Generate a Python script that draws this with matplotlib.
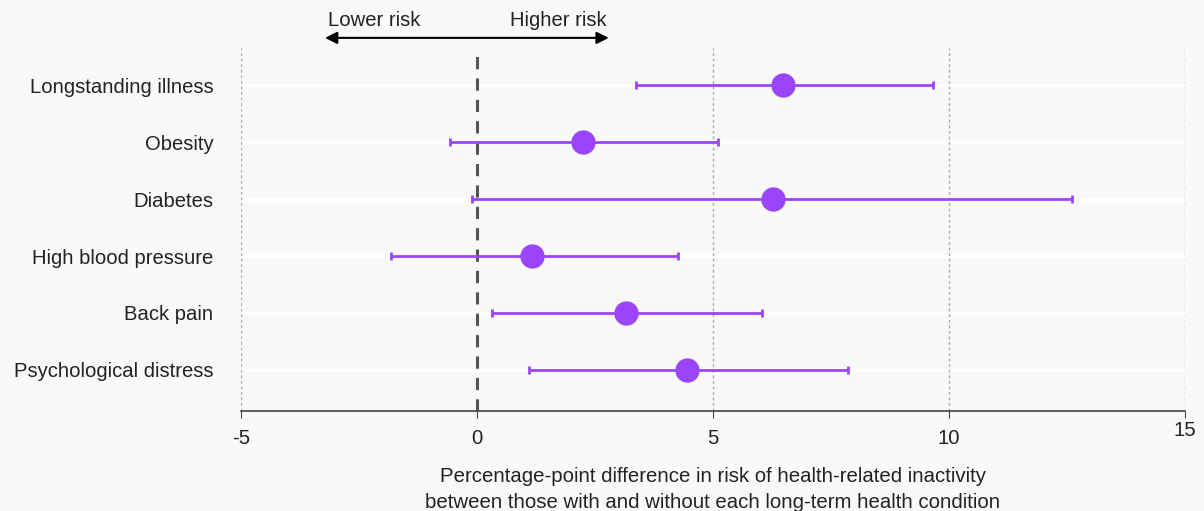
import matplotlib
matplotlib.use("Agg")
import matplotlib.pyplot as plt
from matplotlib.transforms import ScaledTranslation

conditions = ["Longstanding illness", "Obesity", "Diabetes", "High blood pressure",
              "Back pain", "Psychological distress"]
estimates = [6.48, 2.25, 6.27, 1.17, 3.16, 4.45]
lower = [3.37, -0.57, -0.11, -1.82, 0.32, 1.10]
upper = [9.66, 5.11, 12.60, 4.26, 6.04, 7.86]
xticks = [-5, 0, 5, 10, 15]
xticklabels = ["-5", "0", "5", "10", "15"]

purple = "#9a45f9"
bg = "#f9f9f9"
txt = "#222222"
plt.rcParams['font.family'] = ['Liberation Sans', 'DejaVu Sans']

fig = plt.figure(figsize=(12.04, 5.11), dpi=100, facecolor=bg)
ax = fig.add_axes([0.2002, 0.1957, 0.7840, 0.7103], facecolor=bg)

ypos = list(range(len(conditions)))
for y in ypos:
    ax.axhline(y, color="white", lw=2.5, zorder=0)
for xv in [-5, 5, 10, 15]:
    ax.axvline(xv, color="#aaaaaa", lw=1, ls=(0, (2, 2)), zorder=0)
ax.axvline(0, color="#555555", lw=2.2, ls=(0, (4, 3)), zorder=1)

xerr = [[e - l for e, l in zip(estimates, lower)], [u - e for e, u in zip(estimates, upper)]]
ax.errorbar(estimates, ypos, xerr=xerr, fmt="o", color=purple, ms=16.5,
            elinewidth=2, capsize=3, capthick=2, zorder=3)

ax.set_xlim(-5, 15)
ax.set_ylim(5.72, -0.65)
ax.set_yticks(ypos)
ax.set_yticklabels(conditions, fontsize=14.6, color=txt)
ax.tick_params(axis="y", length=0, pad=20)
ax.set_xticks(xticks)
ax.set_xticklabels(xticklabels, fontsize=14.6, color=txt)
ax.tick_params(axis="x", length=5, color="#444444", pad=8)
for lab in ax.get_xticklabels():
    if lab.get_text() == "15":
        lab.set_transform(lab.get_transform() + ScaledTranslation(0, 8 / 100, fig.dpi_scale_trans))

for s in ["top", "right", "left"]:
    ax.spines[s].set_visible(False)
ax.spines["bottom"].set_color("#444444")
ax.spines["bottom"].set_linewidth(1.2)

ax.set_xlabel("Percentage-point difference in risk of health-related inactivity\n"
              "between those with and without each long-term health condition",
              fontsize=14.7, color=txt, labelpad=14, linespacing=1.45)

ax.annotate("", xy=(-3.28, 1.028), xytext=(2.85, 1.028), xycoords=("data", "axes fraction"),
            arrowprops=dict(arrowstyle="<|-|>", color="black", lw=1.5, mutation_scale=18),
            annotation_clip=False)
ax.text(-2.18, 1.05, "Lower risk", transform=ax.get_xaxis_transform(), ha="center",
        va="bottom", fontsize=14.6, color=txt)
ax.text(1.72, 1.05, "Higher risk", transform=ax.get_xaxis_transform(), ha="center",
        va="bottom", fontsize=14.6, color=txt)

fig.savefig("out.png", dpi=100, facecolor=bg)
